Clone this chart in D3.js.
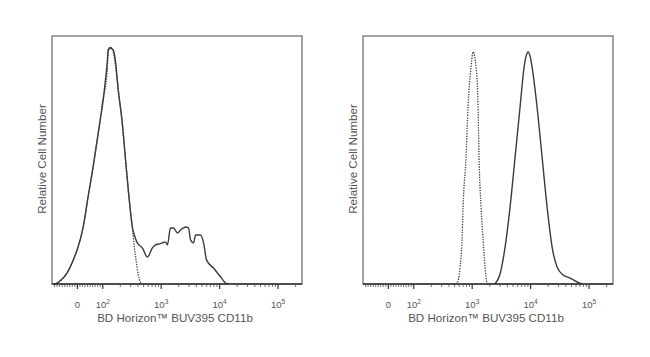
<!DOCTYPE html>
<html><head><meta charset="utf-8">
<script src="https://cdn.jsdelivr.net/npm/d3@7"></script>
<style>body{margin:0;background:#fff}svg{display:block}</style>
</head><body><svg id="c" width="650" height="357"></svg>
<script>
// ---------- data (fluorescence intensity, relative cell number in % of max) ----------
const leftStainedX = [-90,-78,-58,-39,-19,1,13,25,44,64,80,92,100,112,122,126,137,154,167,188,220,248,279,302,327,368,398,485,592,721,813,951,1072,1205,1306,1469,1656,1941,2183,2460,2661,2999,3245,3656,3955,4819,5424,6109,8054,10617,12950,14590];
const leftStainedY = [0,0.4,2.0,4.4,8.4,13.7,17.7,22.9,34.9,47.0,57.8,65.9,71.1,80.7,89.2,94.0,94.8,94.0,90.0,77.9,64.7,51.0,37.8,29.7,22.9,18.5,16.5,14.5,10.8,14.5,15.7,16.1,16.5,16.9,15.7,22.5,22.5,20.5,21.7,22.5,22.9,22.5,17.7,16.5,19.7,19.7,16.5,9.6,6.4,2.8,0.4,0];
const leftIsotypeX = [-90,-78,-58,-39,-19,1,13,25,44,64,80,92,100,112,122,126,137,154,167,188,220,248,279,302,327,354,383,414,449,485];
const leftIsotypeY = [0,0.4,2.0,4.4,8.4,13.7,17.7,22.9,34.9,47.0,57.8,65.9,72.5,78.5,86,92.5,95.2,93,88.5,77.9,64.7,51.0,37.8,29.7,22.9,14.9,8.8,3.6,0.8,0];
const rightIsotypeX = [480,562,633,684,712,801,867,975,1056,1189,1286,1337,1447,1567,1695,1834,2065];
const rightIsotypeY = [0,0.4,6.8,17.7,30.9,51.0,71.1,87.1,93.2,87.1,71.1,51.0,30.9,17.7,6.8,0.4,0];
const rightStainedX = [2512,3062,3733,4539,5534,6730,7888,8530,9226,10000,10810,13150,16030,19540,23770,28970,36730,48420,63710,77610];
const rightStainedY = [0,4.0,14.9,30.9,51.0,71.1,87.1,91.5,93.2,91.5,87.1,71.1,51.0,30.9,14.9,6.8,3.6,2.4,0.8,0];

const majorTickValues = [0, 100, 1000, 10000, 100000];
const majorTickBase = ["0", "10", "10", "10", "10"];
const majorTickExp = ["", "2", "3", "4", "5"];
const minorTickValues = [-90,-80,-70,-60,-50,-40,-30,-20,-10,10,20,30,40,50,60,70,80,90,
  200,300,400,500,600,700,800,900,2000,3000,4000,5000,6000,7000,8000,9000,
  20000,30000,40000,50000,60000,70000,80000,90000,200000];
const xAxisTitle = "BD Horizon™ BUV395 CD11b";
const yAxisTitle = "Relative Cell Number";
const domainMin = -98, domainMax = 262144;

// ---------- biexponential-like transform (linear below 100, log above) ----------
const T = v => v >= 100 ? Math.log10(v) : 2 + (v - 100) / (100 * Math.LN10);

const svg = d3.select("#c");
const panelW = 250, plotTop = 36, plotBottom = 284;
const FONT = "Arial, 'Liberation Sans', sans-serif";
const panels = [
  {x0: 52, stained: [leftStainedX, leftStainedY], iso: [leftIsotypeX, leftIsotypeY]},
  {x0: 363, stained: [rightStainedX, rightStainedY], iso: [rightIsotypeX, rightIsotypeY]}
];

panels.forEach(p => {
  const xs = d3.scaleLinear().domain([T(domainMin), T(domainMax)]).range([p.x0, p.x0 + panelW]);
  const ys = d3.scaleLinear().domain([0, 100]).range([plotBottom, plotTop - 1]);
  const g = svg.append("g");

  // frame
  g.append("rect").attr("x", p.x0).attr("y", plotTop).attr("width", panelW).attr("height", plotBottom - plotTop)
    .attr("fill", "none").attr("stroke", "#8c8c8c").attr("stroke-width", 1.6);

  const line = d3.line().x(d => xs(T(d[0]))).y(d => ys(d[1])).curve(d3.curveMonotoneX);
  const iso = d3.zip(p.iso[0], p.iso[1]);
  const st = d3.zip(p.stained[0], p.stained[1]);
  g.append("path").attr("d", line(iso)).attr("fill", "none").attr("stroke", "#404040")
    .attr("stroke-width", 1.3).attr("stroke-dasharray", "1.3,1.3");
  g.append("path").attr("d", line(st)).attr("fill", "none").attr("stroke", "#3a3a3a")
    .attr("stroke-width", 1.4);

  // minor ticks
  const axMinor = d3.axisBottom(xs).tickValues(minorTickValues.map(T)).tickSize(3).tickFormat("");
  const am = g.append("g").attr("transform", `translate(0,${plotBottom})`).call(axMinor);
  am.select(".domain").remove();
  am.selectAll("line").attr("stroke", "#555").attr("stroke-width", 0.8);

  // major ticks
  const axMajor = d3.axisBottom(xs).tickValues(majorTickValues.map(T)).tickSize(5)
    .tickFormat(() => "");
  const aM = g.append("g").attr("transform", `translate(0,${plotBottom})`).call(axMajor);
  aM.select(".domain").attr("stroke", "#333").attr("stroke-width", 1.5)
    .attr("d", `M${p.x0},0H${p.x0 + panelW}`);
  aM.selectAll("line").attr("stroke", "#333").attr("stroke-width", 1.2);
  aM.selectAll(".tick text").each(function(d, i) {
    const t = d3.select(this).attr("y", 23.5).attr("dy", null)
      .attr("font-family", FONT).attr("font-size", 9.5).attr("fill", "#555");
    t.append("tspan").text(majorTickBase[i]);
    if (majorTickExp[i]) t.append("tspan").attr("dy", -4).attr("font-size", 6.5).text(majorTickExp[i]);
  });

  // axis title
  g.append("text").attr("x", p.x0 + panelW / 2 - 2).attr("y", 322).attr("text-anchor", "middle")
    .attr("font-family", FONT).attr("font-size", 11.6)
    .attr("fill", "#555").text(xAxisTitle);

  // y title
  g.append("text").attr("transform", `translate(${p.x0 - 6},159) rotate(-90)`)
    .attr("text-anchor", "middle")
    .attr("font-family", FONT).attr("font-size", 11.6)
    .attr("fill", "#555").text(yAxisTitle);
});
</script>
</body></html>
